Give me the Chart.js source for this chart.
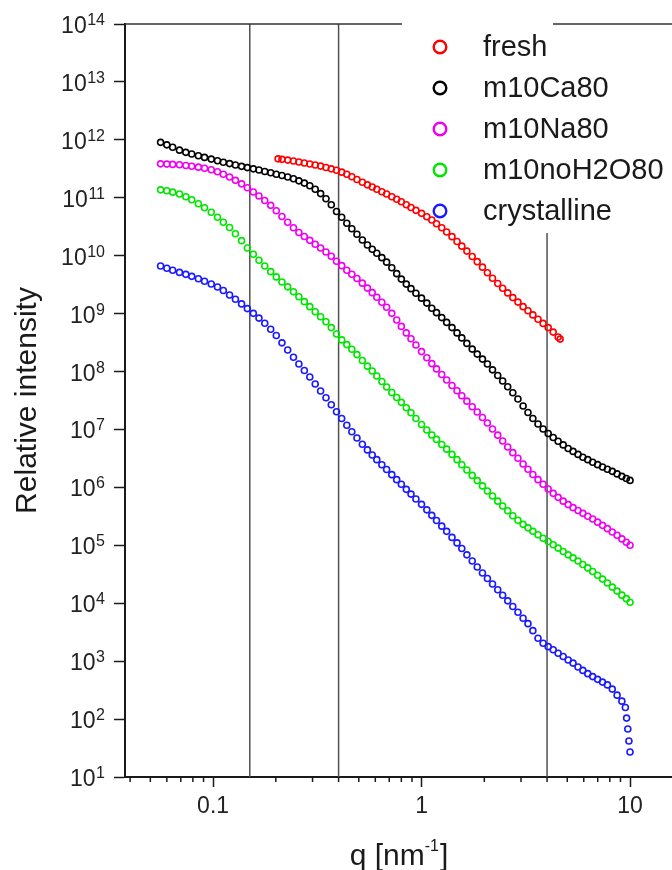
<!DOCTYPE html>
<html>
<head>
<meta charset="utf-8">
<script src="https://cdn.jsdelivr.net/npm/chart.js"></script>
<style>
  body { margin: 0; background: #fff; }
  canvas { display: block; }
</style>
</head>
<body>
<canvas id="chart_saxs" width="672" height="870"></canvas>
<script>
// q grid shared by the m10 samples (nm^-1)
const q = [
  0.056, 0.060, 0.064, 0.069, 0.074, 0.079, 0.085, 0.091, 0.098, 0.105,
  0.112, 0.120, 0.128, 0.137, 0.146, 0.156, 0.166, 0.177, 0.189, 0.201,
  0.214, 0.228, 0.243, 0.258, 0.274, 0.291, 0.309, 0.328, 0.348, 0.369,
  0.391, 0.414, 0.438, 0.463, 0.49, 0.52, 0.55, 0.58, 0.61, 0.645,
  0.68, 0.72, 0.76, 0.80, 0.845, 0.89, 0.94, 1.0, 1.06, 1.12,
  1.18, 1.25, 1.32, 1.40, 1.48, 1.56, 1.65, 1.75, 1.85, 1.96,
  2.07, 2.19, 2.32, 2.45, 2.59, 2.74, 2.9, 3.07, 3.24, 3.42,
  3.62, 3.83, 4.05, 4.28, 4.52, 4.78, 5.05, 5.33, 5.63, 5.94,
  6.27, 6.62, 6.99, 7.38, 7.79, 8.22, 8.67, 9.14, 9.6, 10.0
];

const qFresh = [
  0.205, 0.214, 0.228, 0.243, 0.258, 0.274, 0.291, 0.309, 0.328, 0.348, 0.369, 0.391,
  0.414, 0.438, 0.463, 0.49, 0.52, 0.55, 0.58, 0.61, 0.645, 0.68, 0.72, 0.76, 0.80,
  0.845, 0.89, 0.94, 1.0,
  1.06, 1.12, 1.18, 1.25, 1.32, 1.40, 1.48, 1.56, 1.65, 1.75, 1.85, 1.96, 2.07, 2.19,
  2.32, 2.45, 2.59, 2.74, 2.9, 3.07, 3.24, 3.42, 3.62, 3.83, 4.05, 4.28, 4.52,
  4.62
];

const qCrystalline = [
  0.056, 0.060, 0.064, 0.069, 0.074, 0.079, 0.085, 0.091, 0.098, 0.105,
  0.112, 0.120, 0.128, 0.137, 0.146, 0.156, 0.166, 0.177, 0.189, 0.201,
  0.214, 0.228, 0.243, 0.258, 0.274, 0.291, 0.309, 0.328, 0.348, 0.369,
  0.391, 0.414, 0.438, 0.463, 0.49, 0.52, 0.55, 0.58, 0.61, 0.645,
  0.68, 0.72, 0.76, 0.80, 0.845, 0.89, 0.94, 1.0, 1.06, 1.12,
  1.18, 1.25, 1.32, 1.40, 1.48, 1.56, 1.65, 1.75, 1.85, 1.96,
  2.07, 2.19, 2.32, 2.45, 2.59, 2.74, 2.9, 3.07, 3.24, 3.42,
  3.62, 3.83, 4.05, 4.28, 4.52, 4.78, 5.05, 5.33, 5.63, 5.94,
  6.27, 6.62, 6.99, 7.38, 7.79, 8.22, 8.67, 9.14, 9.5, 9.63,
  9.76, 9.88, 10.0
];

// relative intensities
const fresh = [
  4.70e11, 4.61e11, 4.47e11, 4.31e11, 4.14e11, 3.98e11, 3.83e11, 3.68e11, 3.52e11, 3.34e11, 3.16e11, 2.98e11,
  2.77e11, 2.54e11, 2.30e11, 2.07e11, 1.85e11, 1.67e11, 1.53e11, 1.40e11, 1.27e11, 1.16e11, 1.04e11, 9.42e10, 8.53e10,
  7.57e10, 6.78e10, 6.07e10, 5.38e10,
  4.70e10, 4.13e10, 3.56e10, 3.04e10, 2.56e10, 2.13e10, 1.76e10, 1.46e10, 1.20e10, 9.68e9, 7.89e9, 6.34e9, 5.09e9, 4.09e9,
  3.32e9, 2.74e9, 2.28e9, 1.89e9, 1.58e9, 1.32e9, 1.12e9, 9.51e8, 8.00e8, 6.78e8, 5.74e8, 4.80e8, 3.94e8,
  3.63e8
];

const m10Ca80 = [
  9.06e11, 8.20e11, 7.43e11, 6.64e11, 6.08e11, 5.69e11, 5.30e11, 4.98e11, 4.65e11, 4.35e11,
  4.11e11, 3.89e11, 3.69e11, 3.49e11, 3.32e11, 3.16e11, 3.01e11, 2.84e11, 2.70e11, 2.55e11,
  2.42e11, 2.28e11, 2.13e11, 1.96e11, 1.79e11, 1.61e11, 1.40e11, 1.18e11, 9.61e10, 7.57e10,
  5.78e10, 4.61e10, 3.63e10, 2.92e10, 2.35e10, 1.87e10, 1.53e10, 1.29e10, 1.10e10, 9.25e9,
  7.73e9, 6.21e9, 4.90e9, 3.94e9, 3.23e9, 2.70e9, 2.25e9, 1.85e9, 1.52e9, 1.24e9,
  1.04e9, 8.53e8, 7.05e8, 5.74e8, 4.65e8, 3.81e8, 3.06e8, 2.44e8, 2.00e8, 1.64e8,
  1.35e8, 1.07e8, 8.53e7, 6.85e7, 5.45e7, 4.30e7, 3.36e7, 2.54e7, 1.96e7, 1.55e7,
  1.24e7, 1.02e7, 8.53e6, 7.28e6, 6.27e6, 5.41e6, 4.70e6, 4.18e6, 3.71e6, 3.32e6,
  3.01e6, 2.72e6, 2.47e6, 2.25e6, 2.06e6, 1.89e6, 1.71e6, 1.55e6, 1.42e6, 1.32e6
];

const m10Na80 = [
  3.85e11, 3.81e11, 3.77e11, 3.71e11, 3.61e11, 3.51e11, 3.38e11, 3.23e11, 3.04e11, 2.81e11,
  2.54e11, 2.28e11, 2.00e11, 1.74e11, 1.49e11, 1.26e11, 1.07e11, 8.95e10, 7.40e10, 5.97e10,
  4.74e10, 3.77e10, 3.04e10, 2.52e10, 2.14e10, 1.84e10, 1.58e10, 1.36e10, 1.16e10, 9.80e9,
  8.04e9, 6.73e9, 5.62e9, 4.78e9, 4.05e9, 3.36e9, 2.76e9, 2.30e9, 1.92e9, 1.57e9,
  1.29e9, 1.01e9, 7.78e8, 6.01e8, 4.65e8, 3.68e8, 2.88e8, 2.21e8, 1.73e8, 1.37e8,
  1.11e8, 8.87e7, 7.13e7, 5.74e7, 4.65e7, 3.81e7, 3.08e7, 2.47e7, 2.00e7, 1.61e7,
  1.29e7, 1.02e7, 7.98e6, 6.34e6, 4.99e6, 3.98e6, 3.18e6, 2.54e6, 2.06e6, 1.67e6,
  1.36e6, 1.13e6, 9.38e5, 7.89e5, 6.73e5, 5.78e5, 5.04e5, 4.47e5, 3.98e5, 3.56e5,
  3.18e5, 2.84e5, 2.51e5, 2.21e5, 1.94e5, 1.70e5, 1.49e5, 1.29e5, 1.13e5, 1.00e5
];

const m10noH2O80 = [
  1.37e11, 1.32e11, 1.25e11, 1.16e11, 1.04e11, 9.25e10, 7.89e10, 6.73e10, 5.62e10, 4.61e10,
  3.78e10, 3.06e10, 2.39e10, 1.82e10, 1.36e10, 1.06e10, 8.36e9, 6.64e9, 5.30e9, 4.30e9,
  3.52e9, 2.90e9, 2.38e9, 1.96e9, 1.61e9, 1.32e9, 1.08e9, 8.81e8, 7.23e8, 5.74e8,
  4.44e8, 3.52e8, 2.92e8, 2.42e8, 1.96e8, 1.55e8, 1.24e8, 1.02e8, 8.36e7, 6.73e7,
  5.41e7, 4.35e7, 3.56e7, 2.94e7, 2.37e7, 1.94e7, 1.55e7, 1.22e7, 9.79e6, 8.04e6,
  6.73e6, 5.51e6, 4.57e6, 3.71e6, 3.01e6, 2.46e6, 2.00e6, 1.61e6, 1.31e6, 1.06e6,
  8.67e5, 7.11e5, 5.78e5, 4.78e5, 3.94e5, 3.23e5, 2.70e5, 2.30e5, 2.00e5, 1.74e5,
  1.52e5, 1.32e5, 1.16e5, 1.02e5, 8.95e4, 7.82e4, 6.85e4, 6.07e4, 5.35e4, 4.67e4,
  4.07e4, 3.53e4, 3.04e4, 2.61e4, 2.23e4, 1.90e4, 1.62e4, 1.38e4, 1.20e4, 1.04e4
];

const crystalline = [
  6.64e9, 6.08e9, 5.62e9, 5.15e9, 4.76e9, 4.40e9, 4.01e9, 3.62e9, 3.25e9, 2.88e9,
  2.51e9, 2.10e9, 1.77e9, 1.47e9, 1.22e9, 1.01e9, 8.36e8, 6.81e8, 5.36e8, 4.18e8,
  3.13e8, 2.35e8, 1.76e8, 1.35e8, 1.04e8, 8.04e7, 6.08e7, 4.61e7, 3.52e7, 2.67e7,
  2.02e7, 1.55e7, 1.18e7, 9.12e6, 7.13e6, 5.56e6, 4.44e6, 3.63e6, 3.01e6, 2.46e6,
  2.04e6, 1.66e6, 1.36e6, 1.13e6, 9.25e5, 7.66e5, 6.31e5, 5.09e5, 4.09e5, 3.29e5,
  2.68e5, 2.14e5, 1.74e5, 1.37e5, 1.10e5, 8.81e4, 6.85e4, 5.35e4, 4.21e4, 3.32e4,
  2.68e4, 2.15e4, 1.71e4, 1.37e4, 1.10e4, 8.77e3, 7.00e3, 5.51e3, 4.44e3, 3.36e3,
  2.49e3, 2.04e3, 1.78e3, 1.57e3, 1.37e3, 1.20e3, 1.05e3, 925, 794, 692,
  608, 541, 485, 435, 389, 329, 259, 204, 158, 104,
  67.3, 41.8, 27.0
];

// axes
const yTicks = [1e1, 1e2, 1e3, 1e4, 1e5, 1e6, 1e7, 1e8, 1e9, 1e10, 1e11, 1e12, 1e13, 1e14];
const xTicks = [0.1, 1, 10];
const xMinorTicks = [0.04, 0.05, 0.06, 0.07, 0.08, 0.09, 0.2, 0.3, 0.4, 0.5, 0.6, 0.7, 0.8, 0.9,
  2, 3, 4, 5, 6, 7, 8, 9];
const guideLines = [0.15, 0.4, 4];

const FONT = "'Liberation Sans', Arial, sans-serif";
const INK = '#1a1a1a';

// legend sits inside the plot, upper right
const legend = { x: 440, top: 47, step: 41, textGap: 43, bottom: 233, frameGap: [402, 553] };

function series(xs, ys) {
  return xs.map((v, i) => ({ x: v, y: ys[i] }));
}

function ringSet(label, xs, ys, color) {
  return {
    label: label,
    data: series(xs, ys),
    borderColor: color,
    backgroundColor: 'rgba(0,0,0,0)',
    pointStyle: 'circle',
    pointRadius: 3.0,
    pointBorderWidth: 1.6,
    pointHoverRadius: 3.0,
    showLine: false
  };
}

const overlay = {
  id: 'overlay',
  beforeDatasetsDraw(chart) {
    const { ctx, chartArea: a, scales: { x } } = chart;
    ctx.save();
    // vertical guide lines
    ctx.strokeStyle = '#505050';
    ctx.lineWidth = 1.5;
    guideLines.forEach(v => {
      const px = x.getPixelForValue(v);
      const top = v > 1 ? legend.bottom : a.top;
      ctx.beginPath();
      ctx.moveTo(px, top);
      ctx.lineTo(px, a.bottom);
      ctx.stroke();
    });
    // top frame, broken behind the legend
    ctx.strokeStyle = '#333';
    ctx.beginPath();
    ctx.moveTo(a.left, a.top);
    ctx.lineTo(legend.frameGap[0], a.top);
    ctx.moveTo(legend.frameGap[1], a.top);
    ctx.lineTo(a.right, a.top);
    ctx.stroke();
    ctx.restore();
  },
  afterDraw(chart) {
    const { ctx, chartArea: a, scales: { x, y } } = chart;
    ctx.save();

    // minor ticks on the q axis
    ctx.strokeStyle = INK;
    ctx.lineWidth = 1.5;
    xMinorTicks.forEach(v => {
      const px = x.getPixelForValue(v);
      ctx.beginPath();
      ctx.moveTo(px, a.bottom);
      ctx.lineTo(px, a.bottom + 5);
      ctx.stroke();
    });

    // y tick labels as 10^n
    const labelRight = a.left - 20;
    ctx.fillStyle = '#222';
    ctx.textAlign = 'right';
    ctx.textBaseline = 'alphabetic';
    yTicks.forEach(v => {
      const py = y.getPixelForValue(v);
      const exp = String(Math.round(Math.log10(v)));
      ctx.font = '16px ' + FONT;
      const supW = ctx.measureText(exp).width;
      ctx.fillText(exp, labelRight, py + 1);
      ctx.font = '23px ' + FONT;
      ctx.fillText('10', labelRight - supW - 0.5, py + 9);
    });

    // q axis title with superscript
    ctx.textAlign = 'left';
    ctx.fillStyle = INK;
    const baseY = chart.height - 5;
    ctx.font = '30px ' + FONT;
    const w1 = ctx.measureText('q [nm').width;
    const w3 = ctx.measureText(']').width;
    ctx.font = '16px ' + FONT;
    const w2 = ctx.measureText('-1').width;
    let sx = (a.left + a.right) / 2 - (w1 + w2 + w3) / 2;
    ctx.font = '30px ' + FONT;
    ctx.fillText('q [nm', sx, baseY);
    ctx.font = '16px ' + FONT;
    ctx.fillText('-1', sx + w1, baseY - 14);
    ctx.font = '30px ' + FONT;
    ctx.fillText(']', sx + w1 + w2 + 1, baseY);

    // legend
    ctx.textBaseline = 'middle';
    chart.data.datasets.forEach((ds, i) => {
      const ly = legend.top + i * legend.step;
      ctx.beginPath();
      ctx.arc(legend.x, ly, 6.3, 0, Math.PI * 2);
      ctx.strokeStyle = ds.borderColor;
      ctx.lineWidth = 2.4;
      ctx.stroke();
      ctx.font = '29px ' + FONT;
      ctx.fillStyle = INK;
      ctx.fillText(ds.label, legend.x + legend.textGap, ly + 1);
    });

    ctx.restore();
  }
};

new Chart(document.getElementById('chart_saxs'), {
  type: 'scatter',
  data: {
    datasets: [
      ringSet('fresh', qFresh, fresh, '#ff0000'),
      ringSet('m10Ca80', q, m10Ca80, '#000000'),
      ringSet('m10Na80', q, m10Na80, '#f000f0'),
      ringSet('m10noH2O80', q, m10noH2O80, '#00e600'),
      ringSet('crystalline', qCrystalline, crystalline, '#1a1aff')
    ]
  },
  options: {
    responsive: false,
    animation: false,
    layout: { autoPadding: false, padding: { top: 24, left: 0, right: 0, bottom: 0 } },
    plugins: {
      legend: { display: false },
      tooltip: { enabled: false }
    },
    scales: {
      x: {
        type: 'logarithmic',
        position: 'bottom',
        min: 0.0378,
        max: 15.9,
        afterBuildTicks: s => { s.ticks = xTicks.map(v => ({ value: v })); },
        afterFit: s => { s.height = 93; },
        ticks: {
          autoSkip: false,
          maxRotation: 0,
          padding: 6,
          color: '#222',
          font: { family: FONT, size: 23 },
          callback: v => String(v)
        },
        grid: {
          display: true,
          drawOnChartArea: false,
          drawTicks: true,
          tickLength: 10,
          tickWidth: 1.5,
          tickColor: INK
        },
        border: { display: true, color: INK, width: 2 }
      },
      y: {
        type: 'logarithmic',
        position: 'left',
        min: 1e1,
        max: 1e14,
        afterBuildTicks: s => { s.ticks = yTicks.map(v => ({ value: v })); },
        afterFit: s => { s.width = 125; },
        ticks: { display: false },
        grid: {
          display: true,
          drawOnChartArea: false,
          drawTicks: true,
          tickLength: 11,
          tickWidth: 1.5,
          tickColor: INK
        },
        border: { display: true, color: INK, width: 2 },
        title: {
          display: true,
          text: 'Relative intensity',
          color: INK,
          font: { family: FONT, size: 30 },
          padding: { top: 10, bottom: 0 }
        }
      }
    }
  },
  plugins: [overlay]
});
</script>
</body>
</html>
